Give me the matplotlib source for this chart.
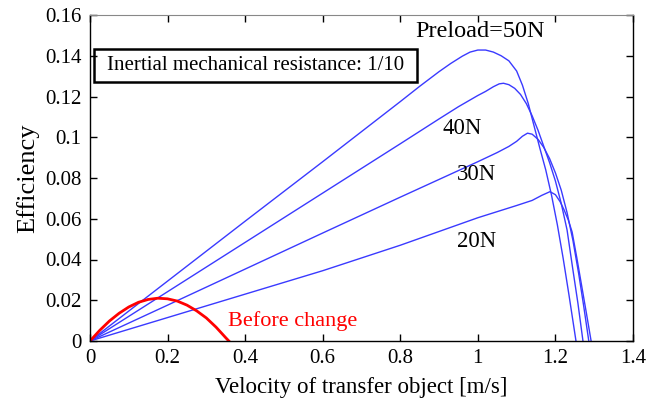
import matplotlib.pyplot as plt
from matplotlib.patches import Rectangle

plt.rcParams['font.family'] = ['Liberation Serif', 'DejaVu Serif']

# values
v_50 = [0, 0.2, 0.4, 0.6, 0.8, 0.85, 0.9, 0.93, 0.96, 0.98, 1.0, 1.02, 1.04, 1.06, 1.08, 1.1,
        1.115, 1.13, 1.145, 1.16, 1.175, 1.19, 1.205, 1.22, 1.235, 1.253]
eff_50 = [0, 0.0294, 0.0588, 0.088, 0.1175, 0.125, 0.1322, 0.1362, 0.1398, 0.1418, 0.1428, 0.1428,
          0.1418, 0.1400, 0.1375, 0.1325, 0.1255, 0.1165, 0.1055, 0.0945, 0.084, 0.0715, 0.057,
          0.0405, 0.0225, 0.0]

v_40 = [0, 0.2, 0.4, 0.6, 0.8, 0.9, 0.95, 1.0, 1.02, 1.04, 1.055, 1.066, 1.08, 1.095, 1.11, 1.125,
        1.14, 1.155, 1.17, 1.185, 1.2, 1.215, 1.23, 1.245, 1.258, 1.271]
eff_40 = [0, 0.0242, 0.0484, 0.0726, 0.0968, 0.109, 0.115, 0.1205, 0.1225, 0.1248, 0.1262, 0.1265,
          0.1258, 0.1240, 0.121, 0.1165, 0.1105, 0.1035, 0.0955, 0.0875, 0.0785, 0.0675, 0.0545,
          0.035, 0.0185, 0.0]

v_30 = [0, 0.2, 0.4, 0.6, 0.8, 1.0, 1.05, 1.08, 1.1, 1.115, 1.128, 1.14, 1.155, 1.17, 1.185, 1.2,
        1.215, 1.23, 1.245, 1.26, 1.273, 1.286]
eff_30 = [0, 0.0176, 0.0353, 0.053, 0.0706, 0.088, 0.0925, 0.0955, 0.098, 0.1005, 0.102, 0.1015,
          0.099, 0.095, 0.0895, 0.0825, 0.074, 0.063, 0.0495, 0.033, 0.017, 0.0]

v_20 = [0, 0.2, 0.4, 0.6, 0.8, 1.0, 1.05, 1.1, 1.14, 1.165, 1.186, 1.2, 1.212, 1.222, 1.233, 1.243,
        1.255, 1.268, 1.28, 1.292]
eff_20 = [0, 0.0115, 0.023, 0.0345, 0.047, 0.0605, 0.0635, 0.0665, 0.069, 0.0715, 0.0733, 0.0718,
          0.0684, 0.0645, 0.0595, 0.0535, 0.041, 0.0267, 0.0135, 0.0]

v_before = [0, 0.025, 0.05, 0.075, 0.1, 0.125, 0.15, 0.175, 0.2, 0.225, 0.25, 0.275, 0.3, 0.325, 0.35, 0.358]
eff_before = [0, 0.0052, 0.0098, 0.0136, 0.0167, 0.019, 0.0204, 0.021, 0.0207, 0.0196, 0.0176,
              0.0148, 0.0113, 0.0068, 0.0016, 0.0]

x_ticks = [0, 0.2, 0.4, 0.6, 0.8, 1.0, 1.2, 1.4]
x_labels = ['0', '0.2', '0.4', '0.6', '0.8', '1', '1.2', '1.4']
y_ticks = [0, 0.02, 0.04, 0.06, 0.08, 0.1, 0.12, 0.14, 0.16]
y_labels = ['0', '0.02', '0.04', '0.06', '0.08', '0.1', '0.12', '0.14', '0.16']

fig = plt.figure(figsize=(6.5, 4.07), dpi=100)
ax = fig.add_axes([90 / 650, 1 - 341 / 407, 543 / 650, 326 / 407])

blue = '#3a3aff'
for v, e in [(v_50, eff_50), (v_40, eff_40), (v_30, eff_30), (v_20, eff_20)]:
    ax.plot(v, e, color=blue, lw=1.0)
ax.plot(v_before, eff_before, color='red', lw=2.0)

ax.set_xlim(0, 1.4)
ax.set_ylim(0, 0.16)
ax.set_xticks(x_ticks)
ax.set_xticklabels(x_labels)
ax.set_yticks(y_ticks)
ax.set_yticklabels(y_labels)
ax.tick_params(direction='in', length=5, width=1, labelsize=15, top=True, right=True, pad=6)
ax.spines['top'].set_color('#888888')
for s in ['left', 'bottom', 'right']:
    ax.spines[s].set_linewidth(1.0)

ax.set_xlabel('Velocity of transfer object [m/s]', fontsize=16.5, labelpad=6)
ax.set_ylabel('Efficiency', fontsize=19, labelpad=4)

# curve labels
ax.text(1.006, 0.1517, 'Preload=50N', fontsize=17.5, ha='center', va='center')
ax.text(0.959, 0.1045, '40N', fontsize=16.4, ha='center', va='center')
ax.text(0.997, 0.0816, '30N', fontsize=16.4, ha='center', va='center')
ax.text(0.997, 0.049, '20N', fontsize=16.4, ha='center', va='center')
ax.text(0.355, 0.0098, 'Before change', fontsize=16, color='red', ha='left', va='center')

ax.add_patch(Rectangle((0.011, 0.1271), 0.833, 0.0161, fill=False, ec='black', lw=1.8, zorder=5))
ax.text(0.4275, 0.1352, 'Inertial mechanical resistance: 1/10', fontsize=15, ha='center', va='center')

fig.savefig('out.png', dpi=100)
